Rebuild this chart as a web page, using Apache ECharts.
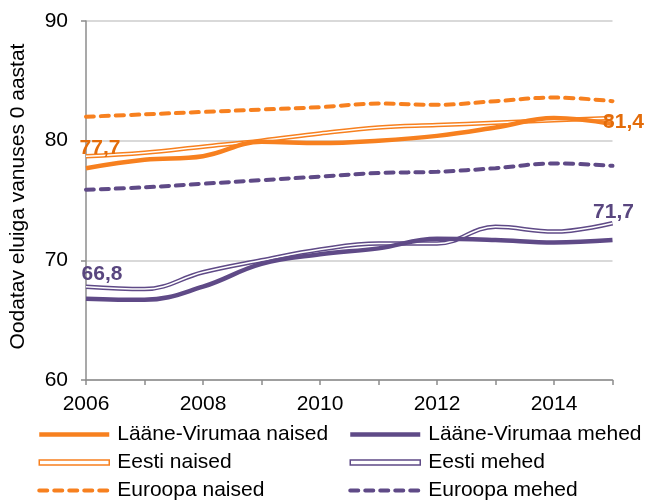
<!DOCTYPE html>
<html>
<head>
<meta charset="utf-8">
<script src="https://cdn.jsdelivr.net/npm/echarts@6/dist/echarts.min.js"></script>
<style>html,body{margin:0;padding:0;background:#fff}#c{width:648px;height:504px}</style>
</head>
<body>
<div id="c"></div>
<script>
const years = ['2006','2007','2008','2009','2010','2011','2012','2013','2014','2015'];
const lvNaised = [77.7, 78.4, 78.7, 79.9, 79.8, 80.0, 80.4, 81.1, 81.9, 81.4];
const eestiNaised = [78.7, 79.0, 79.5, 80.0, 80.6, 81.1, 81.3, 81.5, 81.7, 81.9];
const euroopaNaised = [82.0, 82.2, 82.4, 82.6, 82.8, 83.1, 83.0, 83.3, 83.6, 83.3];
const lvMehed = [66.8, 66.7, 67.8, 69.7, 70.5, 71.0, 71.8, 71.7, 71.5, 71.7];
const eestiMehed = [67.8, 67.6, 69.0, 70.0, 70.9, 71.4, 71.4, 72.8, 72.4, 73.1];
const euroopaMehed = [75.9, 76.1, 76.4, 76.7, 77.0, 77.3, 77.4, 77.7, 78.1, 77.9];
const yTitle = 'Oodatav eluiga vanuses 0 aastat';

const ORANGE = '#F7801F';
const PURPLE = '#5F4A87';
const ORANGE_LBL = '#E36C0A';
const PURPLE_LBL = '#59467F';
const FONT = '"Liberation Sans", Arial, sans-serif';
const SM = 0.4;

function fmt(v){ return String(v.toFixed(1)).replace('.', ','); }

function solid(name, data, color){
  return {name, type:'line', data, smooth:SM, symbol:'none', z:3,
    lineStyle:{color, width:4.5}, itemStyle:{color}};
}
function dbl(name, data, color){
  return [
    {name, type:'line', data, smooth:SM, symbol:'none', z:2,
      lineStyle:{color, width:4.5}, itemStyle:{color}},
    {name: name + ' _inner', type:'line', data, smooth:SM, symbol:'none', z:2,
      lineStyle:{color:'#fff', width:1.5}, itemStyle:{color:'#fff'}, silent:true}
  ];
}
function dashed(name, data, color){
  return {name, type:'line', data, smooth:SM, symbol:'none', z:2,
    lineStyle:{color, width:4, type:[8,7], cap:'round'}, itemStyle:{color}};
}
function lbl(idx, arr, color, off){
  return {value:[idx, arr[idx]], itemStyle:{color},
    label:{show:true, position:'inside', offset:off, color, opacity:1,
    textBorderWidth:0, textBorderColor:'transparent', textShadowBlur:0,
    fontFamily:FONT, fontSize:21, fontWeight:'bold', formatter: p => fmt(p.value[1])}};
}
const DBL_ICON = 'path://M0,0H140V10H0Z';

function legendCol(left, items){
  return {orient:'vertical', left, top:421, padding:0, itemGap:1, itemWidth:70, itemHeight:14,
    textStyle:{color:'#000', fontFamily:FONT, fontSize:21, lineHeight:27, padding:[0,0,0,3]},
    itemStyle:{opacity:0},
    lineStyle:{width:4.5},
    data:items};
}

const chart = echarts.init(document.getElementById('c'), null, {renderer:'canvas'});
chart.setOption({
  animation:false,
  backgroundColor:'#fff',
  grid:{left:84.5, right:35.5, top:21, bottom:124, containLabel:false},
  xAxis:{type:'category', data:years, boundaryGap:false,
    axisLine:{lineStyle:{color:'#8c8c8c', width:1.5}},
    axisTick:{show:true, interval:0, length:5, lineStyle:{color:'#8c8c8c', width:1.5}},
    axisLabel:{interval:1, color:'#000', fontFamily:FONT, fontSize:21, margin:14},
    splitLine:{show:false}},
  yAxis:{type:'value', min:60, max:90, interval:10,
    name:yTitle, nameLocation:'middle', nameGap:57,
    nameTextStyle:{color:'#000', fontFamily:FONT, fontSize:21, padding:[0,0,0,8]},
    axisLine:{show:true, lineStyle:{color:'#8c8c8c', width:1.5}},
    axisTick:{show:true, length:5, lineStyle:{color:'#8c8c8c', width:1.5}},
    axisLabel:{color:'#000', fontFamily:FONT, fontSize:21, margin:18},
    splitLine:{lineStyle:{color:'#d9d9d9', width:2}}},
  legend:[
    legendCol(37, [{name:'Lääne-Virumaa naised'},
      {name:'Eesti naised', icon:DBL_ICON, itemStyle:{color:'#fff', borderColor:ORANGE, borderWidth:1.5, opacity:1}},
      {name:'Euroopa naised', lineStyle:{width:4}}]),
    legendCol(348, [{name:'Lääne-Virumaa mehed'},
      {name:'Eesti mehed', icon:DBL_ICON, itemStyle:{color:'#fff', borderColor:PURPLE, borderWidth:1.5, opacity:1}},
      {name:'Euroopa mehed', lineStyle:{width:4}}])
  ],
  series:[
    dashed('Euroopa naised', euroopaNaised, ORANGE),
    dashed('Euroopa mehed', euroopaMehed, PURPLE),
    ...dbl('Eesti naised', eestiNaised, ORANGE),
    ...dbl('Eesti mehed', eestiMehed, PURPLE),
    solid('Lääne-Virumaa naised', lvNaised, ORANGE),
    solid('Lääne-Virumaa mehed', lvMehed, PURPLE),
    {name:'labels', type:'scatter', symbolSize:0.01, z:5, silent:true,
      data:[lbl(0, lvNaised, ORANGE_LBL, [14,-20]),
            lbl(9, lvNaised, ORANGE_LBL, [11,-2]),
            lbl(0, lvMehed, PURPLE_LBL, [16,-24]),
            lbl(9, lvMehed, PURPLE_LBL, [1,-28])]}
  ]
});
</script>
</body>
</html>
